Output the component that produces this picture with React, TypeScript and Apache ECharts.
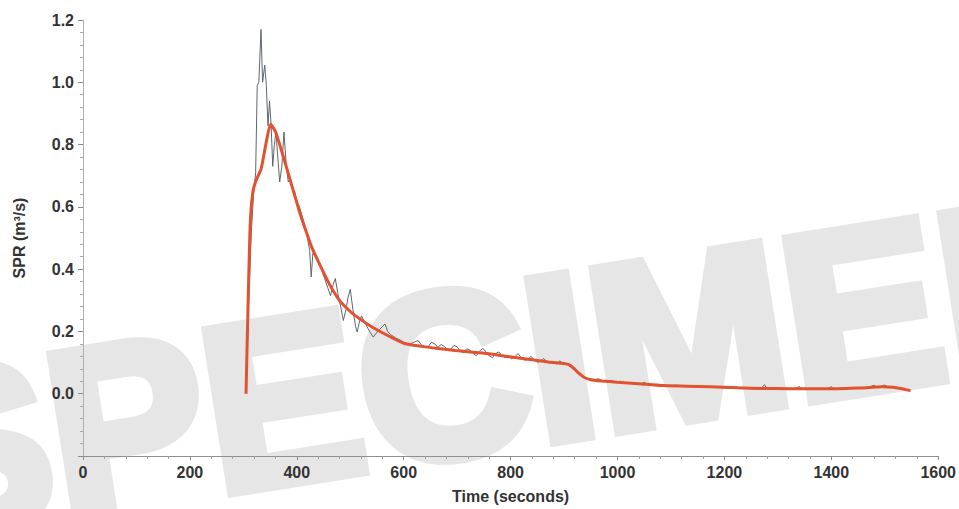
import { useEffect, useRef } from 'react';
import * as echarts from 'echarts';

// fitted curve (red)
const fitTimes = [
  305, 309, 313, 318, 325, 333, 342, 351, 360, 375, 391, 404, 416, 428, 441, 460, 478, 495, 510, 540,
  571, 600, 633, 665, 696, 720, 757, 781, 815, 844, 871, 893, 908, 918, 928, 938, 950, 970, 999, 1040,
  1085, 1130, 1172, 1226, 1270, 1320, 1367, 1410, 1450, 1496, 1515, 1530, 1540, 1548,
];
const fitValues = [
  0.0, 0.3, 0.55, 0.65, 0.69, 0.72, 0.8, 0.865, 0.842, 0.76, 0.666, 0.59, 0.528, 0.47, 0.422, 0.355, 0.304, 0.272, 0.25, 0.215,
  0.186, 0.162, 0.152, 0.145, 0.139, 0.135, 0.129, 0.123, 0.115, 0.108, 0.102, 0.098, 0.094, 0.082, 0.065, 0.052, 0.045, 0.041, 0.037, 0.032,
  0.026, 0.024, 0.022, 0.019, 0.017, 0.016, 0.016, 0.016, 0.018, 0.022, 0.021, 0.017, 0.013, 0.01,
];

// measured signal (grey)
const rawTimes = [
  305, 310, 315, 319, 323, 326, 329, 333, 336, 340, 343, 346, 349, 352, 355, 358, 361, 364, 368, 372,
  376, 380, 384, 388, 392, 396, 400, 405, 410, 415, 420, 424, 427, 430, 435, 441, 446, 452, 458, 463,
  468, 472, 477, 482, 487, 492, 496, 500, 505, 510, 513, 517, 521, 527, 533, 538, 543, 549, 554, 560,
  565, 570, 575, 580, 584, 590, 596, 602, 608, 614, 620, 627, 633, 640, 646, 652, 658, 664, 670, 676,
  682, 688, 694, 700, 706, 712, 718, 724, 730, 736, 742, 748, 754, 760, 766, 772, 778, 784, 790, 796,
  802, 808, 814, 820, 826, 832, 838, 844, 850, 856, 862, 868, 874, 880, 886, 892, 898, 904, 910, 916,
  922, 928, 934, 940, 948, 956, 964, 972, 980, 988, 996, 1004, 1012, 1020, 1030, 1040, 1050, 1060, 1070, 1080,
  1090, 1100, 1110, 1120, 1130, 1140, 1150, 1160, 1170, 1180, 1190, 1200, 1210, 1220, 1230, 1240, 1250, 1260, 1270, 1275,
  1280, 1290, 1300, 1310, 1320, 1330, 1340, 1345, 1350, 1360, 1370, 1380, 1390, 1400, 1405, 1410, 1420, 1430, 1440, 1450,
  1460, 1470, 1480, 1485, 1490, 1500, 1505, 1510, 1520, 1530, 1540, 1548,
];
const rawValues = [
  0.0, 0.3, 0.52, 0.64, 0.71, 0.99, 1.0, 1.17, 1.0, 1.055, 0.99, 0.86, 0.94, 0.86, 0.73, 0.8, 0.84, 0.77, 0.68, 0.73,
  0.84, 0.74, 0.68, 0.69, 0.66, 0.65, 0.62, 0.6, 0.57, 0.54, 0.5, 0.46, 0.375, 0.45, 0.44, 0.425, 0.4, 0.37, 0.34, 0.315,
  0.35, 0.37, 0.32, 0.28, 0.235, 0.27, 0.31, 0.335, 0.27, 0.215, 0.198, 0.23, 0.25, 0.23, 0.21, 0.195, 0.182, 0.195, 0.205, 0.215,
  0.224, 0.2, 0.19, 0.185, 0.18, 0.175, 0.17, 0.163, 0.158, 0.161, 0.166, 0.171, 0.157, 0.15, 0.152, 0.165, 0.16, 0.149, 0.158, 0.152,
  0.141, 0.143, 0.155, 0.151, 0.136, 0.132, 0.144, 0.14, 0.129, 0.122, 0.137, 0.146, 0.134, 0.121, 0.116, 0.129, 0.134, 0.122, 0.116, 0.121,
  0.112, 0.119, 0.129, 0.115, 0.108, 0.109, 0.12, 0.109, 0.101, 0.104, 0.113, 0.102, 0.098, 0.104, 0.095, 0.106, 0.093, 0.096, 0.09, 0.08,
  0.072, 0.064, 0.056, 0.052, 0.047, 0.044, 0.048, 0.042, 0.04, 0.043, 0.037, 0.04, 0.035, 0.034, 0.033, 0.03, 0.036, 0.029, 0.028, 0.027,
  0.026, 0.025, 0.027, 0.024, 0.023, 0.025, 0.022, 0.021, 0.022, 0.02, 0.02, 0.019, 0.019, 0.018, 0.018, 0.017, 0.017, 0.016, 0.019, 0.029,
  0.016, 0.016, 0.016, 0.015, 0.016, 0.015, 0.023, 0.015, 0.016, 0.015, 0.015, 0.016, 0.015, 0.022, 0.015, 0.016, 0.016, 0.017, 0.018, 0.019,
  0.02, 0.021, 0.027, 0.021, 0.022, 0.028, 0.022, 0.021, 0.019, 0.016, 0.012, 0.009,
];

const FONT = '"Liberation Sans", Arial, Helvetica, sans-serif';
const LABEL = '#333333';

export default function App() {
  const chartRef = useRef<HTMLDivElement>(null);

  useEffect(() => {
    document.body.style.margin = '0';
    if (!chartRef.current) return;
    const chart = echarts.init(chartRef.current, undefined, { renderer: 'svg' });
    const tilt = (9 * Math.PI) / 180;

    chart.setOption({
      animation: false,
      backgroundColor: '#ffffff',
      textStyle: { fontFamily: FONT },
      grid: { left: 83, right: 16, top: 20, bottom: 52 },
      graphic: [
        {
          // watermark behind the plot
          type: 'text',
          x: -105,
          y: 462,
          rotation: tilt,
          z: -1,
          silent: true,
          style: {
            text: 'SPECIMEN',
            font: `bold 235px ${FONT}`,
            fill: '#e6e6e6',
            stroke: '#e6e6e6',
            lineWidth: 12,
            textAlign: 'left',
            textVerticalAlign: 'middle',
          },
        },
      ],
      xAxis: {
        type: 'value',
        min: 0,
        max: 1600,
        interval: 200,
        name: 'Time (seconds)',
        nameLocation: 'middle',
        nameGap: 32,
        nameTextStyle: { color: LABEL, fontSize: 16, fontWeight: 'bold', fontFamily: FONT },
        axisLine: { show: true, onZero: false, lineStyle: { color: '#909090', width: 1 } },
        axisTick: { show: true, length: 4, lineStyle: { color: '#8a8a8a' } },
        minorTick: { show: true, splitNumber: 5, length: 3, lineStyle: { color: '#a0a0a0' } },
        axisLabel: {
          color: LABEL,
          fontSize: 16,
          fontWeight: 'bold',
          margin: 8,
          fontFamily: FONT,
          formatter: (v: number) => String(v),
        },
        splitLine: { show: false },
      },
      yAxis: {
        type: 'value',
        min: -0.2,
        max: 1.2,
        interval: 0.2,
        name: 'SPR (m³/s)',
        nameLocation: 'middle',
        nameGap: 56,
        nameTextStyle: { color: LABEL, fontSize: 16, fontWeight: 'bold', fontFamily: FONT },
        axisLine: { show: true, onZero: false, lineStyle: { color: '#b0b0b0', width: 1 } },
        axisTick: { show: true, length: 5, lineStyle: { color: '#8a8a8a' } },
        minorTick: { show: true, splitNumber: 5, length: 3, lineStyle: { color: '#a8a8a8' } },
        axisLabel: {
          color: LABEL,
          fontSize: 16,
          fontWeight: 'bold',
          margin: 9,
          fontFamily: FONT,
          formatter: (v: number) => (v < -0.001 ? '' : v.toFixed(1)),
        },
        splitLine: { show: false },
      },
      series: [
        {
          name: 'Measured',
          type: 'line',
          symbol: 'none',
          z: 2,
          lineStyle: { color: '#5e6670', width: 1 },
          data: rawTimes.map((t, i) => [t, rawValues[i]]),
        },
        {
          name: 'Fit',
          type: 'line',
          symbol: 'none',
          smooth: 0.2,
          z: 3,
          lineStyle: { color: '#e2522f', width: 3 },
          data: fitTimes.map((t, i) => [t, fitValues[i]]),
        },
      ],
    });

    return () => chart.dispose();
  }, []);

  return <div ref={chartRef} style={{ width: 959, height: 509 }} />;
}
